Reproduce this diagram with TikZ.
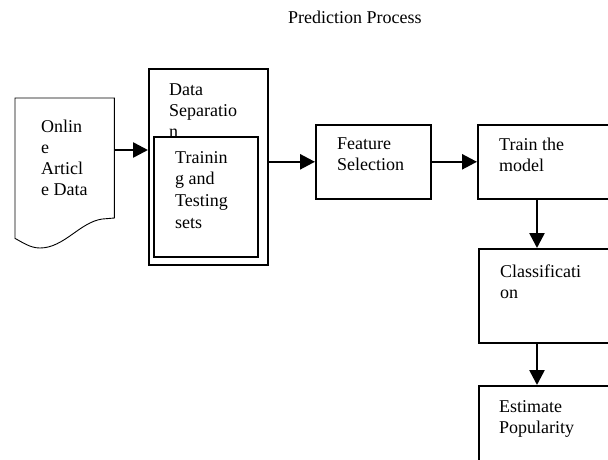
\documentclass[tikz,border=0pt]{standalone}
\usepackage{fontspec}
\setmainfont{Liberation Serif}
\usetikzlibrary{arrows.meta, positioning, calc}
\tikzset{
	box/.style={rectangle, draw, line width=1.6pt, anchor=north west, inner sep=0pt},
	txt/.style={anchor=north west, inner sep=0pt, align=left, font=\fontsize{18}{21}\selectfont},
	flow/.style={draw, line width=2.6pt, -{Triangle[length=15pt, width=15pt]}}
}

\begin{document}
\begin{tikzpicture}[x=1pt, y=-1pt]
		\useasboundingbox (0,0) rectangle (608,459);
		\clip (0,0) rectangle (608,459);
		
		% --- Title ---
		\node[txt] (title) at (288,11) {Prediction Process};
		
		% --- Input document ---
		\node[anchor=north west, inner sep=0pt, minimum width=99pt, minimum height=140pt] (doc) at (15,98) {};
		\draw[line width=0.9pt] (doc.north west) -- (doc.north east) -- ++(0,120) -- ++(-12,1)
			.. controls (80,222) and (64,248) .. (40,248)
			.. controls (30,248) and (22,242) .. (doc.south west) -- cycle;
		\node[txt] (doc_text) at (41,120) {Onlin\\e\\Articl\\e Data};
		
		% --- Data separation (outer and inner boxes) ---
		\node[box, minimum width=119pt, minimum height=196pt] (sep) at (148,68) {};
		\node[txt] (sep_text) at (169,84) {Data\\Separatio\\n};
		\node[box, fill=white, minimum width=104pt, minimum height=120pt] (sets) at (153,136) {};
		\node[txt, font=\fontsize{18}{21.7}\selectfont] (sets_text) at (175,151) {Trainin\\g and\\Testing\\sets};
		
		% --- Processing boxes ---
		\node[box, minimum width=115pt, minimum height=74pt] (feat) at (315,124) {};
		\node[txt] (feat_text) at (337,138) {Feature\\Selection};
		\node[box, minimum width=150pt, minimum height=74pt] (train) at (477,124) {};
		\node[txt] (train_text) at (499,138) {Train the\\model};
		\node[box, minimum width=150pt, minimum height=94pt] (cls) at (478,248) {};
		\node[txt] (cls_text) at (500,265) {Classificati\\on};
		\node[box, minimum width=150pt, minimum height=100pt] (est) at (478,385) {};
		\node[txt] (est_text) at (499,400) {Estimate\\Popularity};
		
		% --- Connectors ---
		\coordinate (doc_out) at ($(doc.north east)+(0,52)$);
		\coordinate (col) at (537,0);
		\draw[flow] (doc_out) -- (doc_out -| sep.west);
		\draw[flow] (sep.east |- feat.west) -- (feat.west);
		\draw[flow] (feat.east) -- (feat.east -| train.west);
		\draw[flow] (train.south -| col) -- (cls.north -| col);
		\draw[flow] (cls.south -| col) -- (est.north -| col);
		
\end{tikzpicture}
\end{document}
